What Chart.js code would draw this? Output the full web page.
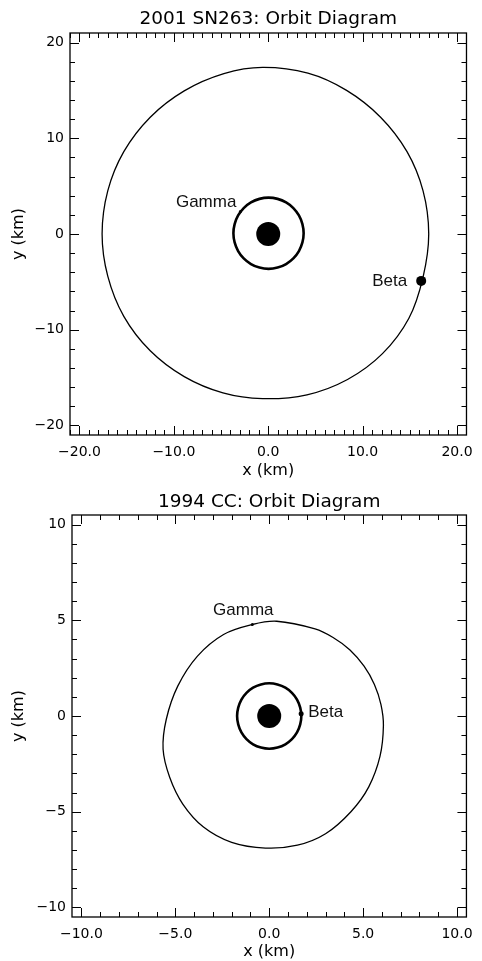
<!DOCTYPE html>
<html>
<head>
<meta charset="utf-8">
<script src="https://cdn.jsdelivr.net/npm/chart.js@4"></script>
<style>
  html, body { margin: 0; padding: 0; background: #fff; }
  canvas { display: block; }
</style>
</head>
<body>
<canvas id="chartTop" width="482" height="480"></canvas>
<canvas id="chartBottom" width="482" height="481"></canvas>
<script>
// ---- 2001 SN263 ----
const snTitle = "2001 SN263: Orbit Diagram";
const snXTicks = [-20, -10, 0, 10, 20];
const snYTicks = [-20, -10, 0, 10, 20];
// outer orbit (Beta)
const snOuterX = [17.0, 16.4, 14.7, 11.9, 8.3, 4.2, -0.6, -4.7, -8.9, -12.5, -15.3, -17.0, -17.6, -17.0, -15.3, -12.5, -8.9, -4.8, -0.6, 4.1, 8.4, 12.1, 14.9, 16.4];
const snOuterY = [0.0, 4.5, 8.6, 12.2, 15.0, 16.8, 17.4, 16.75, 14.95, 12.2, 8.6, 4.5, 0.0, -4.4, -8.6, -12.2, -14.9, -16.6, -17.2, -16.8, -15.2, -12.5, -8.8, -4.5];
// inner orbit (Gamma)
const snInnerX = [3.75, 3.62, 3.25, 2.66, 1.89, 0.99, 0.03, -0.93, -1.83, -2.60, -3.19, -3.56, -3.69, -3.56, -3.19, -2.60, -1.83, -0.93, 0.03, 0.99, 1.89, 2.66, 3.25, 3.62];
const snInnerY = [0.08, 1.04, 1.94, 2.71, 3.30, 3.67, 3.80, 3.67, 3.30, 2.71, 1.94, 1.04, 0.08, -0.88, -1.78, -2.55, -3.14, -3.51, -3.64, -3.51, -3.14, -2.55, -1.78, -0.88];
const snMoonNames = ["Beta", "Gamma"];
const snMoonX = [16.2, -2.95];
const snMoonY = [-4.9, 2.35];

// ---- 1994 CC ----
const ccTitle = "1994 CC: Orbit Diagram";
const ccXTicks = [-10, -5, 0, 5, 10];
const ccYTicks = [-10, -5, 0, 5, 10];
// outer orbit (Gamma)
const ccOuterX = [6.08, 5.95, 5.6, 5.05, 4.3, 3.4, 2.44, 0.4, -0.9, -2.43, -3.82, -4.87, -5.48, -5.65, -5.3, -4.6, -3.5, -2.0, -0.2, 1.5, 3.0, 4.35, 5.3, 5.9];
const ccOuterY = [-0.5, 0.6, 1.65, 2.6, 3.45, 4.1, 4.55, 4.95, 4.78, 4.26, 3.13, 1.56, -0.17, -1.74, -3.2, -4.6, -5.8, -6.6, -6.9, -6.75, -6.15, -5.0, -3.7, -2.1];
// inner orbit (Beta)
const ccInnerX = [1.71, 1.65, 1.48, 1.21, 0.86, 0.44, 0.0, -0.44, -0.86, -1.21, -1.48, -1.65, -1.71, -1.65, -1.48, -1.21, -0.86, -0.44, 0.0, 0.44, 0.86, 1.21, 1.48, 1.65];
const ccInnerY = [0.0, 0.44, 0.86, 1.21, 1.48, 1.65, 1.71, 1.65, 1.48, 1.21, 0.86, 0.44, 0.0, -0.44, -0.86, -1.21, -1.48, -1.65, -1.71, -1.65, -1.48, -1.21, -0.86, -0.44];
const ccMoonNames = ["Beta", "Gamma"];
const ccMoonX = [1.70, -0.9];
const ccMoonY = [0.12, 4.78];

const primaryX = [0];
const primaryY = [0];

const tickFont = { family: "DejaVu Sans", size: 14 };
const axisFont = { family: "DejaVu Sans", size: 16 };
const minus = (s) => String(s).replace("-", "\u2212");

function zip(xs, ys) {
  return xs.map((x, i) => ({ x: x, y: ys[i] }));
}

// orbits are closed curves: let the line element wrap round like a radar line does
const closeLoops = {
  id: "closeLoops",
  afterDatasetUpdate(chart, args) {
    if (chart.data.datasets[args.index].closed) {
      args.meta.dataset._loop = true;
      args.meta.dataset._fullLoop = true;
    }
  }
};

// box + inward major/minor ticks on all four sides, plus moon labels
const framePlugin = {
  id: "frame",
  afterDatasetsDraw(chart, args, opts) {
    const { ctx, chartArea: a, scales } = chart;
    const x = scales.x, y = scales.y;
    ctx.save();
    ctx.strokeStyle = "#000";
    ctx.lineWidth = 1;
    ctx.beginPath();
    const n0 = Math.ceil(x.min / opts.xMinor), n1 = Math.floor(x.max / opts.xMinor);
    for (let n = n0; n <= n1; n++) {
      const v = n * opts.xMinor;
      const len = Math.abs(v % opts.xMajor) < 1e-6 ? 9 : 5;
      const px = Math.round(x.getPixelForValue(v)) + 0.5;
      ctx.moveTo(px, a.bottom); ctx.lineTo(px, a.bottom - len);
      ctx.moveTo(px, a.top); ctx.lineTo(px, a.top + len);
    }
    const m0 = Math.ceil(y.min / opts.yMinor), m1 = Math.floor(y.max / opts.yMinor);
    for (let n = m0; n <= m1; n++) {
      const v = n * opts.yMinor;
      const len = Math.abs(v % opts.yMajor) < 1e-6 ? 9 : 5;
      const py = Math.round(y.getPixelForValue(v)) + 0.5;
      ctx.moveTo(a.left, py); ctx.lineTo(a.left + len, py);
      ctx.moveTo(a.right, py); ctx.lineTo(a.right - len, py);
    }
    ctx.stroke();
    ctx.lineWidth = 1.3;
    ctx.strokeRect(a.left, a.top, a.right - a.left, a.bottom - a.top);

    // labels next to the moons
    const meta = chart.getDatasetMeta(opts.moonDataset);
    ctx.fillStyle = "#111";
    ctx.font = "17px 'Liberation Sans', Arial, sans-serif";
    ctx.textBaseline = "middle";
    opts.names.forEach((name, i) => {
      const pt = meta.data[i];
      const off = opts.offsets[i];
      ctx.textAlign = off.align;
      ctx.fillText(name, pt.x + off.dx, pt.y + off.dy);
    });
    ctx.restore();
  }
};

function makeChart(id, c) {
  return new Chart(document.getElementById(id), {
    type: "scatter",
    data: {
      datasets: [
        { data: zip(c.outerX, c.outerY), closed: true, showLine: true, borderColor: "#000", borderWidth: 1.3, pointRadius: 0, tension: 0.35 },
        { data: zip(c.innerX, c.innerY), closed: true, showLine: true, borderColor: "#000", borderWidth: 2.6, pointRadius: 0, tension: 0.35 },
        { data: zip(primaryX, primaryY), pointRadius: 12, backgroundColor: "#000", borderWidth: 0 },
        { data: zip(c.moonX, c.moonY), pointRadius: c.moonSizes, backgroundColor: "#000", borderWidth: 0 }
      ]
    },
    options: {
      responsive: false,
      animation: false,
      events: [],
      layout: { padding: { left: 0, right: c.padRight, top: 0, bottom: 0 } },
      plugins: {
        legend: { display: false },
        tooltip: { enabled: false },
        frame: {
          xMinor: c.xMinor, xMajor: c.xMajor, yMinor: c.yMinor, yMajor: c.yMajor,
          moonDataset: 3, names: c.moonNames, offsets: c.labelOffsets
        }
      },
      scales: {
        x: {
          type: "linear",
          min: c.range[0], max: c.range[1],
          afterBuildTicks: (s) => { s.ticks = c.xTicks.map(v => ({ value: v })); },
          afterFit: (s) => { s.height = c.xAxisHeight; },
          grid: { display: false, drawTicks: false },
          border: { display: false },
          ticks: { color: "#000", font: tickFont, padding: 9, maxRotation: 0,
                   callback: (v) => minus(v.toFixed(1)) },
          title: { display: true, text: "x (km)", color: "#000", font: axisFont,
                   padding: { top: 0, bottom: 0 } }
        },
        // top axis only carries the chart title, so it is centred over the plot box
        top: {
          type: "linear",
          position: "top",
          axis: "x",
          min: c.range[0], max: c.range[1],
          afterFit: (s) => { s.height = c.titleHeight; },
          grid: { display: false, drawTicks: false },
          border: { display: false },
          ticks: { display: false },
          title: { display: true, text: c.title, color: "#000",
                   font: { family: "DejaVu Sans", size: 18.5 },
                   padding: { top: c.titleTop, bottom: 0 } }
        },
        y: {
          type: "linear",
          min: c.range[0], max: c.range[1],
          afterBuildTicks: (s) => { s.ticks = c.yTicks.map(v => ({ value: v })); },
          afterFit: (s) => { s.width = c.yAxisWidth; },
          grid: { display: false, drawTicks: false },
          border: { display: false },
          ticks: { color: "#000", font: tickFont, padding: 6,
                   callback: (v) => minus(v) },
          title: { display: true, text: "y (km)", color: "#000", font: axisFont,
                   padding: { top: 9, bottom: 0 } }
        }
      }
    },
    plugins: [closeLoops, framePlugin]
  });
}

makeChart("chartTop", {
  title: snTitle, range: [-21, 21], xTicks: snXTicks, yTicks: snYTicks,
  outerX: snOuterX, outerY: snOuterY, innerX: snInnerX, innerY: snInnerY,
  moonX: snMoonX, moonY: snMoonY, moonNames: snMoonNames, moonSizes: [5, 1.5],
  labelOffsets: [{ dx: -14, dy: 0, align: "right" }, { dx: -4, dy: -9, align: "right" }],
  xMinor: 1, xMajor: 10, yMinor: 2, yMajor: 10,
  padRight: 10, yAxisWidth: 70, xAxisHeight: 45, titleHeight: 33, titleTop: 8
});

makeChart("chartBottom", {
  title: ccTitle, range: [-10.5, 10.5], xTicks: ccXTicks, yTicks: ccYTicks,
  outerX: ccOuterX, outerY: ccOuterY, innerX: ccInnerX, innerY: ccInnerY,
  moonX: ccMoonX, moonY: ccMoonY, moonNames: ccMoonNames, moonSizes: [2.5, 1.5],
  labelOffsets: [{ dx: 7, dy: -1, align: "left" }, { dx: -9, dy: -14, align: "center" }],
  xMinor: 1, xMajor: 5, yMinor: 1, yMajor: 5,
  padRight: 8, yAxisWidth: 72, xAxisHeight: 44, titleHeight: 35, titleTop: 11
});
</script>
</body>
</html>
